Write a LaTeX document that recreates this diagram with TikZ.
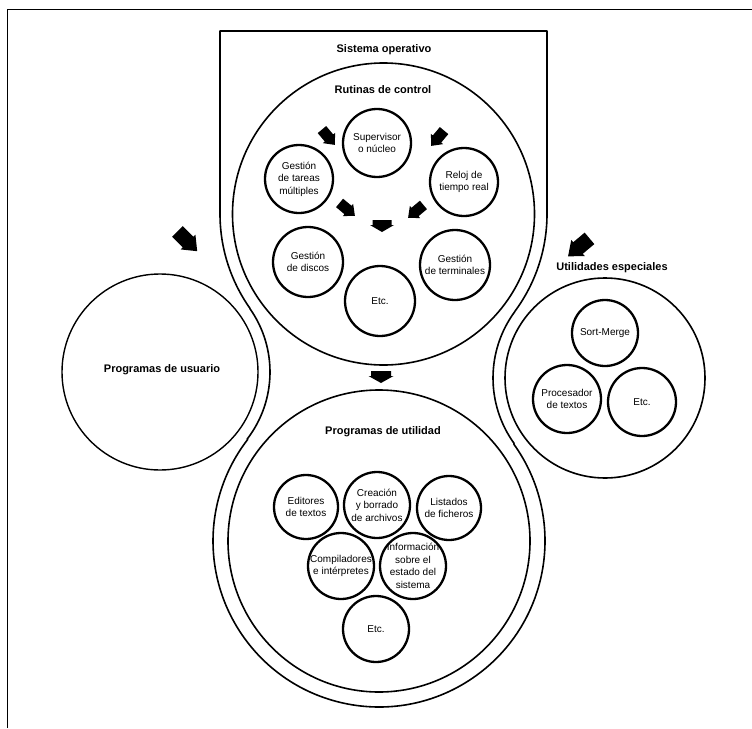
\documentclass[tikz,border=0pt]{standalone}
\usepackage{fontspec}
\setmainfont{Liberation Sans}
\usetikzlibrary{calc}
\newcommand{\blk}[7]{\fill[shift={(#1,#2)}, rotate=#3] (-#4,-#5) -- (0,-#5) -- (0,-#6) -- (#7,0) -- (0,#6) -- (0,#5) -- (-#4,#5) -- cycle;}
\begin{document}
\begin{tikzpicture}[x=1pt,y=-1pt,
  big/.style={line width=1.6pt},
  sub/.style={circle, draw, line width=2.3pt, inner sep=-12pt, align=center,
    font=\fontsize{10}{12.5}\selectfont},
  ttl/.style={font=\bfseries\fontsize{11}{13}\selectfont, inner sep=0pt},
]
\useasboundingbox (0,0) rectangle (752,728);
% frame (top and left edges)
\draw[big] (7.5,728) -- (7.5,9.5) -- (752,9.5);

% centres of the big circles
\coordinate (C1) at (383.5,214);
\coordinate (C2) at (379,541);
\coordinate (L) at (160,372);
\coordinate (R) at (605,378);

% outline of "Sistema operativo"
\draw[big, line join=round] (220,31) -- (547,31) -- (547,214)
  arc[start angle=0, end angle=36.51, radius=163.5]
  -- ($(R)+(216.51:112)$) arc[start angle=216.51, end angle=144.20, radius=112]
  -- ($(C2)+(-35.80:166)$) arc[start angle=-35.80, end angle=217.66, radius=166]
  -- ($(L)+(37.66:110)$) arc[start angle=37.66, end angle=-35.26, radius=110]
  -- ($(C1)+(144.74:163.5)$) arc[start angle=144.74, end angle=180, radius=163.5]
  -- cycle;

% big circles
\draw[big] (C1) circle[radius=151];
\draw[big] (C2) circle[radius=151];
\draw[line width=1.4pt] (L) circle[radius=98];
\draw[big] (R) circle[radius=100];

% titles
\node[ttl] (tso) at (384,50) {Sistema operativo};
\node[ttl] (trc) at (383,90) {Rutinas de control};
\node[ttl] (tpu) at (162,370) {Programas de usuario};
\node[ttl] (tue) at (612,268) {Utilidades especiales};
\node[ttl] (tpt) at (383,432) {Programas de utilidad};

% Rutinas de control
\node[sub, minimum size=68pt] (sup) at (377,143) {Supervisor\\o núcleo};
\node[sub, minimum size=68pt] (tar) at (299,179) {Gestión\\de tareas\\múltiples};
\node[sub, minimum size=68pt] (rel) at (464,182) {Reloj de\\tiempo real};
\node[sub, minimum size=70pt] (dis) at (308,262) {Gestión\\de discos};
\node[sub, minimum size=70pt] (ter) at (455,265) {Gestión\\de terminales};
\node[sub, minimum size=70pt] (etca) at (380,301) {Etc.};

% Programas de utilidad
\node[sub, minimum size=64pt] (edi) at (306,507) {Editores\\de textos};
\node[sub, minimum size=66pt] (cre) at (377,505) {Creación\\y borrado\\de archivos};
\node[sub, minimum size=64pt] (lis) at (449,508) {Listados\\de ficheros};
\node[sub, minimum size=66pt] (com) at (341,566) {Compiladores\\e intérpretes};
\node[sub, minimum size=66pt] (inf) at (413,566) {Información\\sobre el\\estado del\\sistema};
\node[sub, minimum size=66pt] (etcb) at (376,629) {Etc.};

% Utilidades especiales
\node[sub, minimum size=66pt] (sor) at (605,333) {Sort-Merge};
\node[sub, minimum size=68pt] (pro) at (567,399) {Procesador\\de textos};
\node[sub, minimum size=68pt] (etcc) at (642,402) {Etc.};

% block arrows
\blk{329}{138}{-50}{11}{5.5}{8}{9}
\blk{437}{139}{-130}{11}{5.5}{8}{9}
\blk{348}{210}{-40}{11}{5.5}{8}{9}
\blk{415}{212}{-140}{11}{5.5}{8}{9}
\blk{382}{225}{-90}{5}{9.5}{12}{7}
\blk{381}{376}{-90}{5}{10}{12.5}{7}
\blk{188}{242}{-45}{15}{7.5}{10.5}{13}
\blk{578}{248}{-140}{15}{7.5}{10.5}{13}
\end{tikzpicture}
\end{document}
